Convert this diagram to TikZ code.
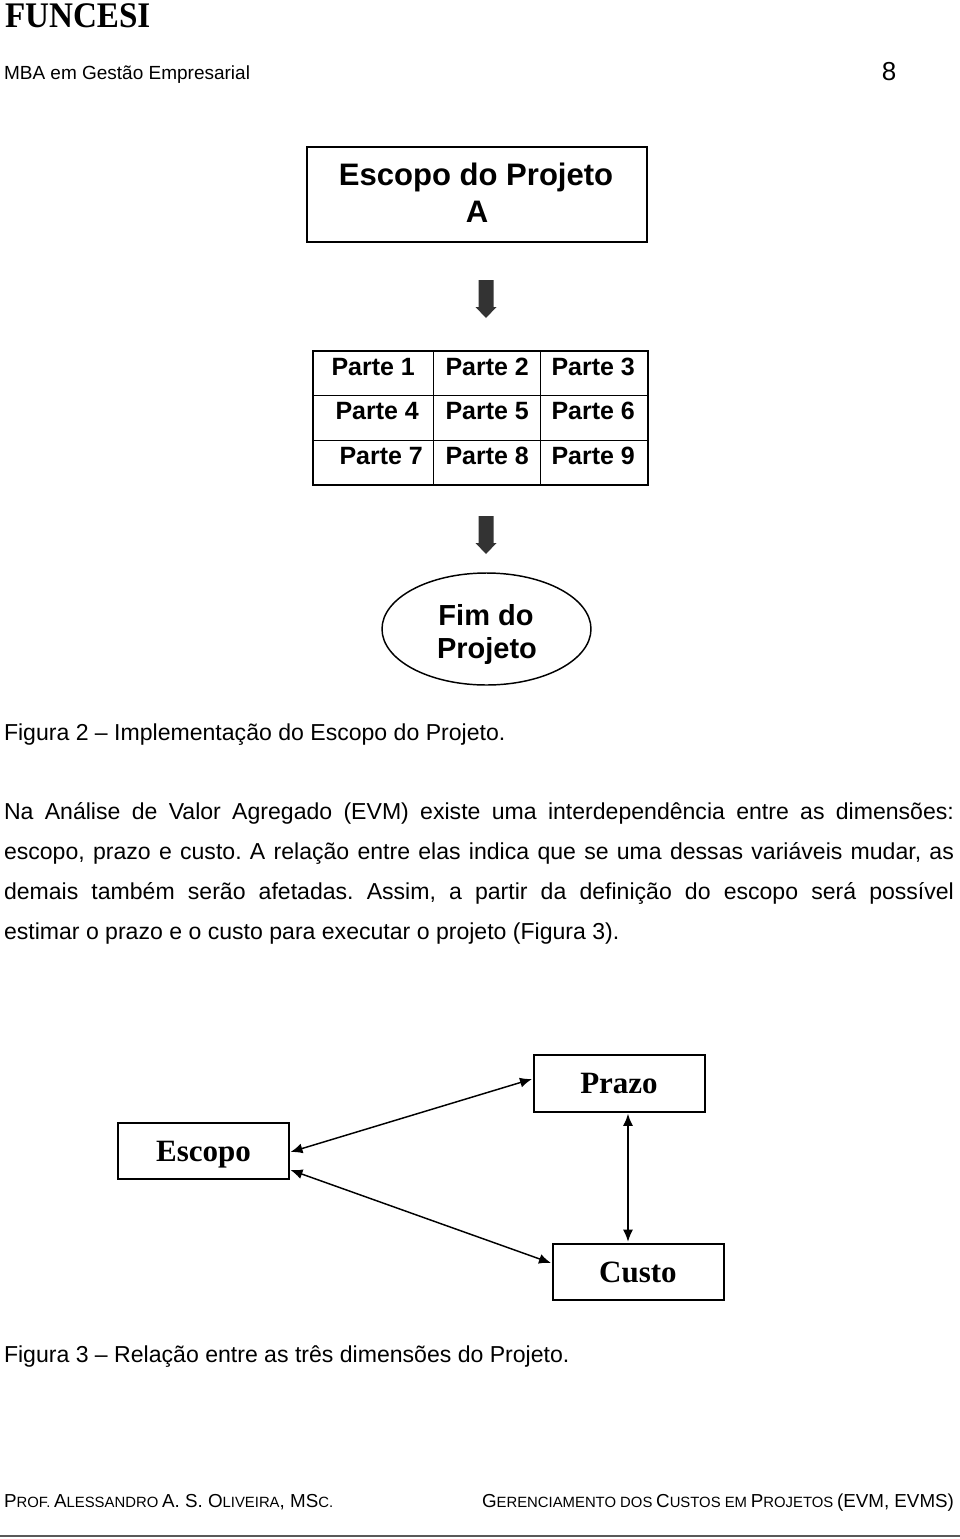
\documentclass[tikz,border=0pt]{standalone}
\usepackage{fontspec}
\setmainfont{Liberation Sans}
\newfontfamily\tnr{Liberation Serif}
\usepackage{graphicx}
\usetikzlibrary{arrows.meta,shapes.geometric,calc}
\frenchspacing
\newcommand\fsz[1]{\fontsize{#1}{#1}\selectfont}
\newcommand\bigsc{\fontsize{14.1pt}{14pt}\selectfont}
\newcommand\smsc{\fontsize{11.15pt}{11pt}\selectfont}
\newcommand\fakesc[2]{{\bigsc #1}{\smsc #2}}
\definecolor{arrowgray}{HTML}{333333}
\newcommand\myblockarrow[1]{\fill[arrowgray] ($(#1)+(-7.5,0)$) -- ($(#1)+(7.5,0)$) -- ($(#1)+(7.5,27)$) -- ($(#1)+(10.5,27)$) -- ($(#1)+(0,38)$) -- ($(#1)+(-10.5,27)$) -- ($(#1)+(-7.5,27)$) -- cycle;}
\tikzset{
  txt/.style={inner sep=0pt, outer sep=0pt},
  body/.style={txt, anchor=base west, font=\fsz{17.3pt}},
  topbox/.style={draw, line width=1.5pt, minimum width=255pt, minimum height=71.25pt, inner sep=0pt},
  tabbox/.style={draw, line width=1.1pt, minimum width=251.25pt, minimum height=100.5pt, inner sep=0pt},
  tabline/.style={line width=1.1pt},
  cell/.style={txt, anchor=base west, font=\bfseries\fsz{18.75pt}},
  endell/.style={draw, ellipse, line width=1.1pt, minimum width=156.75pt, minimum height=84pt, inner sep=0pt},
  dimbox/.style={draw, line width=1.5pt, minimum width=128.25pt, minimum height=42.4pt, inner sep=0pt,
     font=\tnr\bfseries\fsz{23.25pt}, text height=15.4pt, text depth=0pt},
  dbl/.style={line width=1.1pt, {Latex[length=9pt,width=7.5pt]}-{Latex[length=9pt,width=7.5pt]}},
}
\begin{document}
\begin{tikzpicture}[x=0.75pt, y=-0.75pt]
\useasboundingbox (0,0) rectangle (960,1539);
% header
\node[txt, anchor=base west] (funcesi) at (5,27) {\scalebox{0.92}[1]{\tnr\bfseries\fsz{27pt}FUNCESI}};
\node[txt, anchor=base west, font=\fsz{14.25pt}] (mba) at (4,79) {MBA em Gestão Empresarial};
\node[txt, anchor=base, font=\fsz{19.5pt}] (pagenum) at (889,80) {8};
% figure 2
\node[topbox] (escA) at (477,194.5) {};
\node[txt, anchor=base, font=\bfseries\fsz{23.3pt}] (escAt1) at (476,185) {Escopo do Projeto};
\node[txt, anchor=base, font=\bfseries\fsz{23.3pt}] (escAt2) at (477,222) {A};
\coordinate (ar1) at (486,280);
\myblockarrow{ar1}
\node[tabbox] (tabela) at (480.5,418) {};
\draw[tabline] ($(tabela.north west)+(121,0)$) -- ($(tabela.south west)+(121,0)$);
\draw[tabline] ($(tabela.north west)+(228,0)$) -- ($(tabela.south west)+(228,0)$);
\draw[tabline] ($(tabela.north west)+(0,45)$) -- ($(tabela.north east)+(0,45)$);
\draw[tabline] ($(tabela.north west)+(0,90)$) -- ($(tabela.north east)+(0,90)$);
\node[cell] (p1) at (331.5,375) {Parte 1};
\node[cell] (p2) at (445.5,375) {Parte 2};
\node[cell] (p3) at (551.5,375) {Parte 3};
\node[cell] (p4) at (335.5,419) {Parte 4};
\node[cell] (p5) at (445.5,419) {Parte 5};
\node[cell] (p6) at (551.5,419) {Parte 6};
\node[cell] (p7) at (339.5,464) {Parte 7};
\node[cell] (p8) at (445.5,464) {Parte 8};
\node[cell] (p9) at (551.5,464) {Parte 9};
\coordinate (ar2) at (486,516);
\myblockarrow{ar2}
\node[endell] (fim) at (486.5,629) {};
\node[txt, anchor=base, font=\bfseries\fsz{21.75pt}] (fimt1) at (486,625) {Fim do};
\node[txt, anchor=base, font=\bfseries\fsz{21.75pt}] (fimt2) at (487,658) {Projeto};
\node[body] (cap2) at (4,740) {Figura 2 – Implementação do Escopo do Projeto.};
% paragraph
\node[body] (l1) at (4,819) {\makebox[712.5pt][s]{Na Análise de Valor Agregado (EVM) existe uma interdependência entre as dimensões:}};
\node[body] (l2) at (4,859) {\makebox[712.5pt][s]{escopo, prazo e custo. A relação entre elas indica que se uma dessas variáveis mudar, as}};
\node[body] (l3) at (4,899) {\makebox[712.5pt][s]{demais também serão afetadas. Assim, a partir da definição do escopo será possível}};
\node[body] (l4) at (4,939) {estimar o prazo e o custo para executar o projeto (Figura 3).};
% figure 3
\node[dimbox] (prazo) at (619,1083.5) {Prazo};
\node[dimbox] (escopo) at (203.5,1151) {Escopo};
\node[dimbox] (custo) at (638,1272) {Custo};
\draw[dbl] ($(escopo.east)+(0.5,1)$) -- ($(prazo.west)+(-0.5,-4.5)$);
\draw[dbl] ($(escopo.east)+(0.5,19)$) -- ($(custo.west)+(-0.5,-9)$);
\draw[dbl] ($(prazo.south)+(9,1)$) -- ($(custo.north)+(-10,-1)$);
\node[body] (cap3) at (4,1362) {Figura 3 – Relação entre as três dimensões do Projeto.};
% footer
\node[txt, anchor=base west] (autor) at (4,1507) {\fakesc{P}{ROF.} \fakesc{A}{LESSANDRO} \fakesc{A. S. O}{LIVEIRA}\fakesc{, MS}{C.}};
\node[txt, anchor=base east] (curso) at (954,1507) {\fakesc{G}{ERENCIAMENTO DOS} \fakesc{C}{USTOS EM} \fakesc{P}{ROJETOS} \fakesc{(EVM, EVMS)}{}};
\draw[line width=1.5pt, black!65] (0,1536) -- (960,1536);
\end{tikzpicture}
\end{document}
